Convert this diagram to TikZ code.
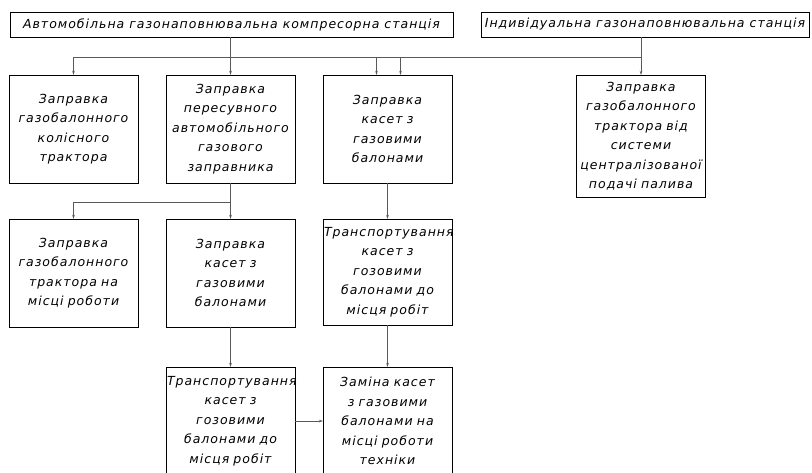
\documentclass[tikz,border=0pt]{standalone}
\usepackage{fontspec}
\setmainfont{DejaVu Sans}[LetterSpace=8]
\usetikzlibrary{arrows.meta}

\begin{document}
\begin{tikzpicture}[x=1pt,y=-1pt,
  title/.style={draw, thin, minimum height=25pt, inner sep=1pt, font=\fontsize{12.5}{15}\selectfont\itshape},
  box/.style={draw, thin, minimum width=129pt, minimum height=108pt, text width=127pt, align=center, inner sep=1pt, font=\fontsize{12.5}{19.5}\selectfont\itshape},
  link/.style={draw=black!65, semithick},
  conn/.style={link, -{Stealth[length=4pt,width=2.6pt]}}]
\clip (0,0) rectangle (812,472);
\fill[white] (0,0) rectangle (812,472);

% stations
\node[title, minimum width=443pt] (agnks) at (231.5,24.5) {Автомобільна газонаповнювальна компресорна станція};
\node[title, minimum width=328pt] (igns) at (645,24.5) {Індивідуальна газонаповнювальна станція};

% first row
\node[box] (kolisn) at (73.5,129) {Заправка\\газобалонного\\колісного\\трактора};
\node[box] (peresuv) at (230.5,129) {Заправка\\пересувного\\автомобільного\\газового\\заправника};
\node[box] (kaset) at (387.5,129) {Заправка\\касет з\\газовими\\балонами};
\node[box, minimum height=122pt] (tsentr) at (641,136) {Заправка\\газобалонного\\трактора від\\системи\\централізованої\\подачі палива};

% second row
\node[box] (mistse) at (73.5,273) {Заправка\\газобалонного\\трактора на\\місці роботи};
\node[box] (kaset2) at (230.5,273) {Заправка\\касет з\\газовими\\балонами};
\node[box, minimum height=106pt] (transp) at (387.5,272) {Транспортування\\касет з\\гозовими\\балонами до\\місця робіт};

% third row
\node[box] (transp2) at (230.5,421) {Транспортування\\касет з\\гозовими\\балонами до\\місця робіт};
\node[box] (zamina) at (387.5,421) {Заміна касет\\з газовими\\балонами на\\місці роботи\\техніки};

% connectors
\coordinate (bus) at (0,57);
\coordinate (bus2) at (0,202);
\coordinate (kL) at ([xshift=-11pt]kaset.north);
\coordinate (kR) at ([xshift=13pt]kaset.north);
\draw[conn] (agnks.south -| peresuv.north) -- (peresuv.north);
\draw[link] (bus -| kolisn.north) -- (bus -| tsentr.north);
\draw[conn] (bus -| kolisn.north) -- (kolisn.north);
\draw[conn] (bus -| kL) -- (kL);
\draw[conn] (bus -| kR) -- (kR);
\draw[conn] (igns.south -| tsentr.north) -- (tsentr.north);
\draw[conn] (peresuv.south) -- (kaset2.north);
\draw[conn] (bus2 -| peresuv.south) -| (mistse.north);
\draw[conn] (kaset.south) -- (transp.north);
\draw[conn] (kaset2.south) -- (transp2.north);
\draw[conn] (transp.south) -- (zamina.north);
\draw[conn] (transp2.east) -- (zamina.west);
\end{tikzpicture}
\end{document}
